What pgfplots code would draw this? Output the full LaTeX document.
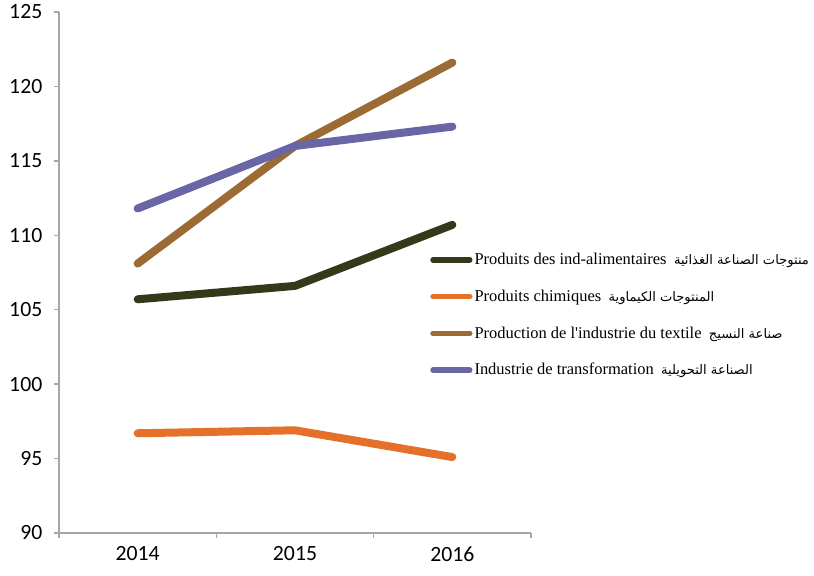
\documentclass[border=0pt]{standalone}
\usepackage{fontspec}
\setmainfont{Liberation Serif}
\newfontfamily\carlito{Carlito}
\newfontfamily\arabicfont[Script=Arabic]{DejaVu Sans}
\TeXXeTstate=1
\usepackage{pgfplots}
\pgfplotsset{compat=1.18}
\definecolor{axisgray}{HTML}{A6A6A6}
\definecolor{cfood}{HTML}{333A1A}
\definecolor{cchem}{HTML}{E4702A}
\definecolor{ctext}{HTML}{9C6A33}
\definecolor{ctrans}{HTML}{6A66A6}
\newcommand{\ar}[1]{{\arabicfont\fontsize{9.8}{12}\selectfont\beginR #1\endR}}
\begin{document}
\begin{tikzpicture}
\useasboundingbox (0,0) rectangle (610.5pt,431.25pt);
\begin{axis}[
  at={(44.25pt,31.5pt)}, anchor=south west,
  scale only axis, width=354pt, height=390.75pt,
  xmin=0, xmax=3, ymin=90, ymax=125,
  axis lines=left,
  axis line style={draw=axisgray, line width=1.1pt, -},
  xtick={0.5,1.5,2.5}, xticklabels={2014,2015,2016},
  minor xtick={0,1,2,3},
  ytick={90,95,...,125},
  tick align=outside,
  major tick length=3.75pt, minor tick length=3.75pt,
  tick style={draw=axisgray, line width=1.1pt},
  major x tick style={draw=none},
  /pgf/number format/assume math mode=true,
  ticklabel style={font=\carlito\fontsize{16.3}{18}\selectfont, text=black},
  yticklabel style={xshift=-5.25pt},
  xticklabel style={yshift=-3pt},
  legend style={draw=none, fill=none, at={(0.786,0.548)}, anchor=north west,
    font=\fontsize{12.35}{14}\selectfont, row sep=13.5pt, inner xsep=0pt,
    nodes={inner xsep=1.5pt}},
  legend cell align=left,
  legend image code/.code={\draw[line width=4.2pt, line cap=round] (2pt,0pt) -- (29.5pt,0pt);},
  every axis plot/.append style={line width=6pt, line cap=round, line join=round},
]
\addplot[cfood] coordinates {(0.5,105.7) (1.5,106.6) (2.5,110.7)};
\addlegendentry{Produits des ind-alimentaires\hspace{0.45em}\ar{منتوجات الصناعة الغذائية}}
\addplot[cchem] coordinates {(0.5,96.7) (1.5,96.9) (2.5,95.1)};
\addlegendentry{Produits chimiques\hspace{0.45em}\ar{المنتوجات الكيماوية}}
\addplot[ctext] coordinates {(0.5,108.1) (1.5,116.0) (2.5,121.6)};
\addlegendentry{Production de l\textquotesingle industrie du textile\hspace{0.45em}\ar{صناعة النسيج}}
\addplot[ctrans] coordinates {(0.5,111.8) (1.5,116.0) (2.5,117.3)};
\addlegendentry{Industrie de transformation\hspace{0.45em}\ar{الصناعة التحويلية}}
\end{axis}
\end{tikzpicture}
\end{document}
